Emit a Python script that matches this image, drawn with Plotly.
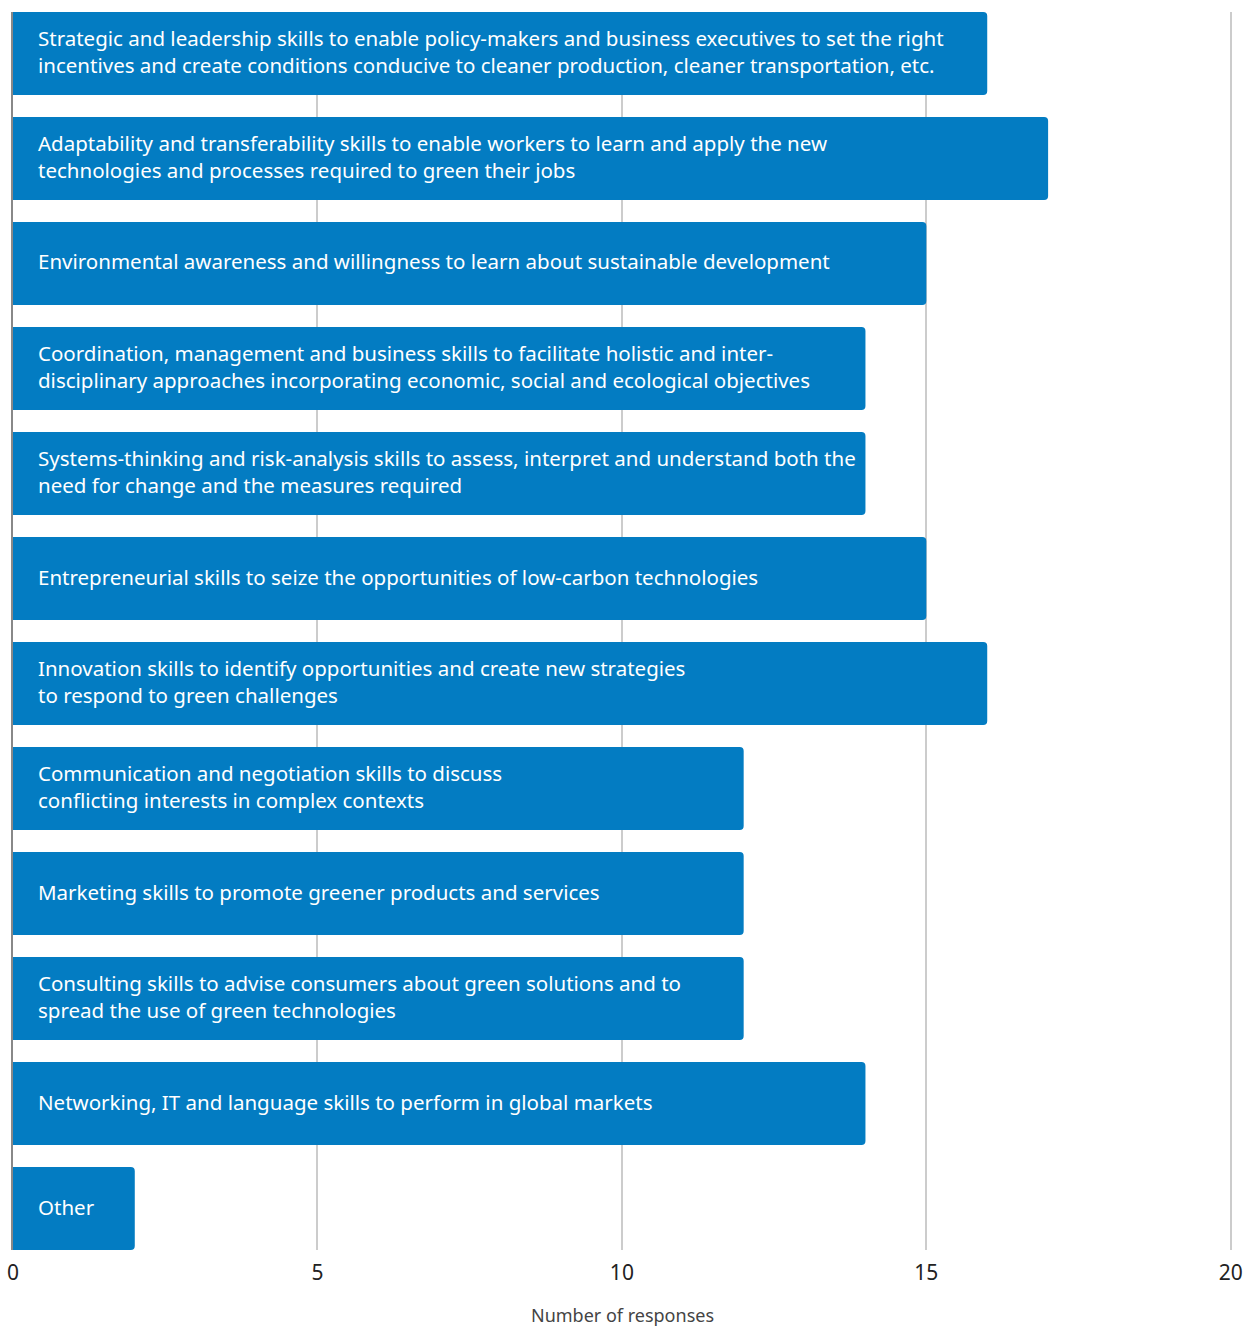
import plotly.graph_objects as go

labels = [
    "Strategic and leadership skills to enable policy-makers and business executives to set the right<br>incentives and create conditions conducive to cleaner production, cleaner transportation, etc.",
    "Adaptability and transferability skills to enable workers to learn and apply the new<br>technologies and processes required to green their jobs",
    "Environmental awareness and willingness to learn about sustainable development",
    "Coordination, management and business skills to facilitate holistic and inter-<br>disciplinary approaches incorporating economic, social and ecological objectives",
    "Systems-thinking and risk-analysis skills to assess, interpret and understand both the<br>need for change and the measures required",
    "Entrepreneurial skills to seize the opportunities of low-carbon technologies",
    "Innovation skills to identify opportunities and create new strategies<br>to respond to green challenges",
    "Communication and negotiation skills to discuss<br>conflicting interests in complex contexts",
    "Marketing skills to promote greener products and services",
    "Consulting skills to advise consumers about green solutions and to<br>spread the use of green technologies",
    "Networking, IT and language skills to perform in global markets",
    "Other",
]
values = [16, 17, 15, 14, 14, 15, 16, 12, 12, 12, 14, 2]
x_ticks = [0, 5, 10, 15, 20]
x_title = "Number of responses"

FONT = "Noto Sans"
BLUE = "#037cc2"

fig = go.Figure()
fig.add_trace(go.Bar(
    x=values,
    y=labels,
    orientation="h",
    marker=dict(color=BLUE, line=dict(width=0)),
    hoverinfo="x",
))

for lab in labels:
    fig.add_annotation(
        x=0, y=lab, xref="x", yref="y",
        text=lab, showarrow=False,
        xanchor="left", yanchor="middle", align="left",
        xshift=23, yshift=2,
        font=dict(family=FONT, size=20.5, color="white"),
    )

fig.update_layout(
    width=1249, height=1327,
    margin=dict(l=13, r=17, t=12, b=77),
    paper_bgcolor="white", plot_bgcolor="white",
    bargap=0.21,
    barcornerradius=4,
    showlegend=False,
    font=dict(family=FONT, color="#222"),
)
fig.update_xaxes(
    range=[0, 20.02], tickvals=x_ticks, ticktext=[str(t) for t in x_ticks],
    showgrid=True, gridcolor="#cccccc", gridwidth=1.5,
    zeroline=False, showline=False, automargin=False,
    ticks="", ticklabelstandoff=8,
    tickfont=dict(family=FONT, size=21, color="#222"),
    title=dict(text=x_title, font=dict(family=FONT, size=18, color="#444"), standoff=30),
)
fig.update_yaxes(
    range=[len(labels) - 1 + 0.395, -0.395],
    showticklabels=False, ticks="", showgrid=False, automargin=False,
    showline=True, linecolor="#888888", linewidth=1.5,
    zeroline=False,
)
fig.write_html("out.html")
